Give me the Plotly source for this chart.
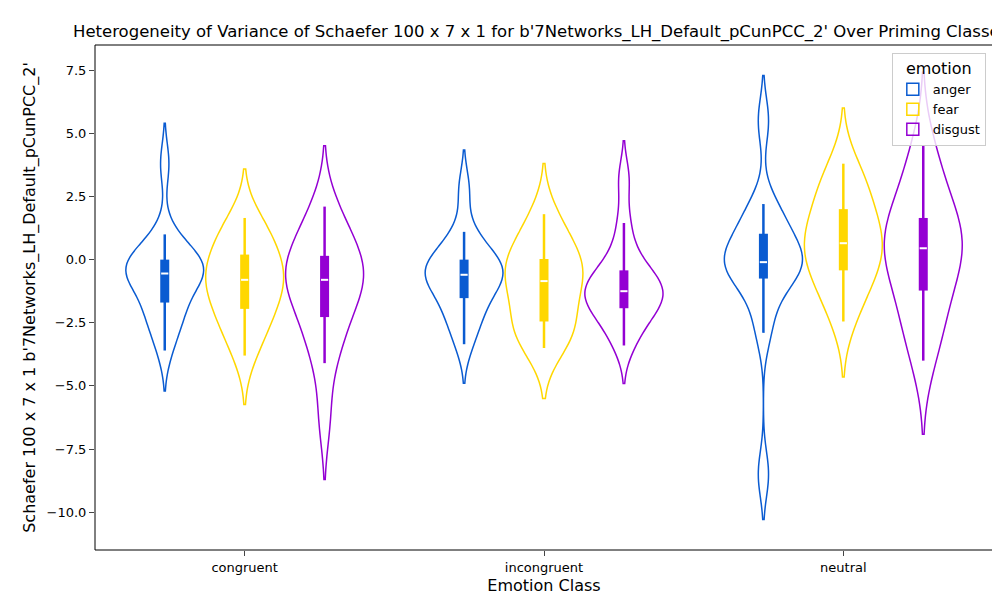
import numpy as np
import plotly.graph_objects as go

classes = ["congruent", "incongruent", "neutral"]
emotions = ["anger", "fear", "disgust"]
colors = {"anger": "#0a5bd1", "fear": "#ffd700", "disgust": "#9400d3"}

# estimated samples per (class, emotion)
samples = {
    ("congruent", "anger"): [-3.6,-2.8,-2.3,-2.05,-1.7,-1.2,-0.8,-0.6,-0.55,-0.4,-0.3,-0.2,0.0,0.05,0.5,1.0,3.8],
    ("congruent", "fear"): [-3.8,-3.0,-2.5,-2.1,-1.8,-1.3,-1.0,-0.8,-0.6,-0.3,0.0,0.4,0.8,1.2,1.65],
    ("congruent", "disgust"): [-6.3,-4.1,-3.2,-2.55,-2.0,-1.4,-1.0,-0.8,-0.6,-0.4,0.0,0.3,0.8,1.4,2.1],
    ("incongruent", "anger"): [-3.35,-2.6,-2.1,-1.75,-1.3,-0.9,-0.7,-0.6,-0.5,-0.3,-0.1,0.1,0.5,1.1,2.8],
    ("incongruent", "fear"): [-3.5,-3.2,-2.8,-2.6,-2.3,-1.6,-1.1,-0.85,-0.6,-0.3,0.0,0.05,0.6,1.2,1.8],
    ("incongruent", "disgust"): [-3.4,-2.8,-2.3,-2.05,-1.8,-1.5,-1.35,-1.25,-1.1,-0.9,-0.6,-0.25,0.3,1.45,3.2],
    ("neutral", "anger"): [-8.5,-2.9,-1.8,-0.9,-0.6,-0.3,-0.15,-0.1,0.1,0.4,0.8,1.25,1.7,2.2,5.5],
    ("neutral", "fear"): [-2.45,-1.6,-1.0,-0.65,-0.2,0.2,0.45,0.65,0.9,1.3,1.8,2.2,2.7,3.2,3.8],
    ("neutral", "disgust"): [-4.0,-3.0,-2.2,-1.65,-0.8,-0.2,0.2,0.45,0.7,1.0,1.4,1.9,2.6,3.5,4.5],
}

offsets = {"anger": -0.267, "fear": 0.0, "disgust": 0.267}
fig = go.Figure()
for e in emotions:
    first = True
    for ci, c in enumerate(classes):
        d = np.array(samples[(c, e)])
        x = ci + offsets[e]
        fig.add_trace(go.Violin(
            x=[x] * len(d), y=d, name=e, legendgroup=e, showlegend=first,
            line=dict(color=colors[e], width=1.5), fillcolor="rgba(255,255,255,0)",
            width=0.26, points=False, box_visible=False, meanline_visible=False,
            spanmode="soft", hoveron="violins"))
        first = False
        q1, med, q3 = np.percentile(d, [25, 50, 75])
        iqr = q3 - q1
        lo = d[d >= q1 - 1.5 * iqr].min()
        hi = d[d <= q3 + 1.5 * iqr].max()
        fig.add_trace(go.Scatter(x=[x, x], y=[lo, hi], mode="lines",
                                 line=dict(color=colors[e], width=2.5), showlegend=False))
        fig.add_trace(go.Scatter(x=[x, x], y=[q1, q3], mode="lines",
                                 line=dict(color=colors[e], width=9), showlegend=False))
        fig.add_trace(go.Scatter(x=[x - 0.012, x + 0.012], y=[med, med], mode="lines",
                                 line=dict(color="white", width=2), showlegend=False))

fig.add_shape(type="rect", xref="paper", yref="paper", x0=0, y0=0, x1=1, y1=1,
              line=dict(color="black", width=1), layer="above")

fig.update_layout(
    width=1000, height=600, plot_bgcolor="white", paper_bgcolor="white",
    font=dict(family="DejaVu Sans", size=13, color="black"),
    margin=dict(l=87, r=15, t=37, b=58, autoexpand=False),
    title=dict(text="Heterogeneity of Variance of Schaefer 100 x 7 x 1 for b'7Networks_LH_Default_pCunPCC_2' Over Priming Classes",
               x=0.065, xanchor="left", y=0.962, yanchor="middle", font=dict(size=16.5), automargin=False),
    legend=dict(title=dict(text="emotion", side="top center"), x=0.992, y=0.985, xanchor="right", yanchor="top",
                bordercolor="#cccccc", borderwidth=1, bgcolor="rgba(255,255,255,0.8)",
                tracegroupgap=0, font=dict(size=13)),
    xaxis=dict(range=[-0.5, 2.5], tickvals=[0, 1, 2], ticktext=classes, showgrid=False, zeroline=False,
               showline=False, ticks="outside", automargin=False,
               title=dict(text="Emotion Class", standoff=6)),
    yaxis=dict(range=[-11.5, 8.5], tickvals=[-10, -7.5, -5, -2.5, 0, 2.5, 5, 7.5],
               ticktext=["−10.0", "−7.5", "−5.0", "−2.5", "0.0", "2.5", "5.0", "7.5"],
               showgrid=False, zeroline=False, showline=False, ticks="outside", automargin=False,
               title=dict(text="Schaefer 100 x 7 x 1 b'7Networks_LH_Default_pCunPCC_2'", standoff=6)),
)
fig.write_html("out.html")
